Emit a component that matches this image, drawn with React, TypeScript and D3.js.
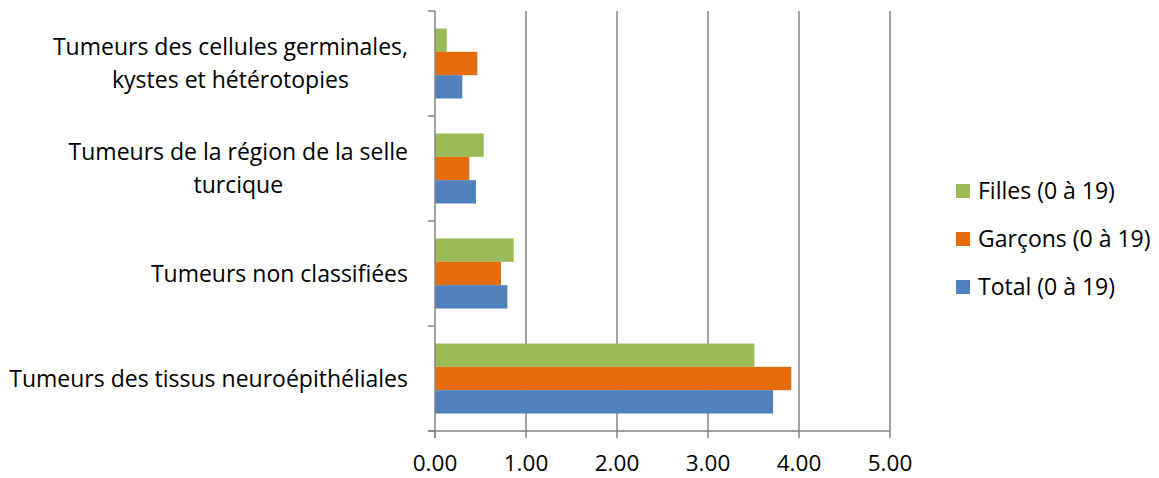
import React, { useEffect, useRef } from "react";
import * as d3 from "d3";

const categories: string[][] = [
  ["Tumeurs des cellules germinales,", "kystes et hétérotopies"],
  ["Tumeurs de la région de la selle", "turcique"],
  ["Tumeurs non classifiées"],
  ["Tumeurs des tissus neuroépithéliales"],
];
const seriesNames = ["Filles (0 à 19)", "Garçons (0 à 19)", "Total (0 à 19)"];
const seriesColors = ["#9BBB59", "#E46C0A", "#4F81BD"];
const filles = [0.13, 0.535, 0.865, 3.51];
const garcons = [0.465, 0.377, 0.725, 3.915];
const total = [0.3, 0.45, 0.795, 3.715];
const xTicks = [0, 1, 2, 3, 4, 5];

const W = 1159;
const H = 478;
const FONT = "'Open Sans', sans-serif";
const FS = 23;

export default function App() {
  const ref = useRef<SVGSVGElement>(null);
  useEffect(() => {
    const svg = d3.select(ref.current);
    svg.selectAll("*").remove();
    const series = [filles, garcons, total];
    const x = d3.scaleLinear().domain([0, 5]).range([435, 890]);
    const y = d3
      .scaleBand<number>()
      .domain(categories.map((_, i) => i))
      .range([11, 431])
      .paddingInner(0)
      .paddingOuter(0);
    const ys = d3
      .scaleBand<number>()
      .domain([0, 1, 2])
      .range([0, y.bandwidth()])
      .paddingInner(0)
      .paddingOuter(0.75);
    const grid = "#868686";

    // gridlines
    svg
      .append("g")
      .selectAll("line")
      .data(xTicks.slice(1))
      .join("line")
      .attr("x1", (d) => x(d))
      .attr("x2", (d) => x(d))
      .attr("y1", y.range()[0])
      .attr("y2", y.range()[1])
      .attr("stroke", grid)
      .attr("stroke-width", 1.5);

    // bars
    const g = svg.append("g");
    series.forEach((vals, si) => {
      g.append("g")
        .selectAll("rect")
        .data(vals)
        .join("rect")
        .attr("x", x(0))
        .attr("y", (_, i) => (y(i) as number) + (ys(si) as number))
        .attr("width", (d) => x(d) - x(0))
        .attr("height", ys.bandwidth())
        .attr("fill", seriesColors[si]);
    });

    // axes lines
    const yEdges = [...categories.map((_, i) => y(i) as number), y.range()[1]];
    svg
      .append("line")
      .attr("x1", x(0))
      .attr("x2", x(0))
      .attr("y1", y.range()[0])
      .attr("y2", y.range()[1] + 7)
      .attr("stroke", grid)
      .attr("stroke-width", 1.5);
    svg
      .append("g")
      .selectAll("line")
      .data(yEdges)
      .join("line")
      .attr("x1", x(0) - 7)
      .attr("x2", x(0))
      .attr("y1", (d) => d)
      .attr("y2", (d) => d)
      .attr("stroke", grid)
      .attr("stroke-width", 1.5);
    svg
      .append("line")
      .attr("x1", x(0) - 7)
      .attr("x2", x(5))
      .attr("y1", y.range()[1])
      .attr("y2", y.range()[1])
      .attr("stroke", grid)
      .attr("stroke-width", 1.5);
    svg
      .append("g")
      .selectAll("line")
      .data(xTicks)
      .join("line")
      .attr("x1", (d) => x(d))
      .attr("x2", (d) => x(d))
      .attr("y1", y.range()[1])
      .attr("y2", y.range()[1] + 7)
      .attr("stroke", grid)
      .attr("stroke-width", 1.5);

    // tick labels
    svg
      .append("g")
      .selectAll("text")
      .data(xTicks)
      .join("text")
      .attr("x", (d) => x(d))
      .attr("y", 471)
      .attr("text-anchor", "middle")
      .attr("font-family", FONT)
      .attr("font-size", 22.5)
      .attr("fill", "#000")
      .text((d) => d3.format(".2f")(d));

    // category labels
    const lineH = 33;
    categories.forEach((lines, i) => {
      const cy = (y(i) as number) + y.bandwidth() / 2;
      const tg = svg.append("g");
      const texts = tg
        .selectAll("text")
        .data(lines)
        .join("text")
        .attr("y", (_, li) => cy + 8 + (li - (lines.length - 1) / 2) * lineH)
        .attr("text-anchor", "middle")
        .attr("font-family", FONT)
        .attr("font-size", FS)
        .attr("fill", "#000")
        .text((d) => d);
      let maxW = 0;
      texts.each(function () {
        maxW = Math.max(maxW, (this as SVGTextElement).getComputedTextLength());
      });
      texts.attr("x", 408 - maxW / 2);
    });

    // legend
    const lg = svg.append("g");
    seriesNames.forEach((name, i) => {
      const cy = 191 + i * 48;
      lg.append("rect")
        .attr("x", 956)
        .attr("y", cy - 7)
        .attr("width", 14)
        .attr("height", 14)
        .attr("fill", seriesColors[i]);
      lg.append("text")
        .attr("x", 978)
        .attr("y", cy + 8)
        .attr("font-family", FONT)
        .attr("font-size", FS)
        .attr("fill", "#000")
        .text(name);
    });
  }, []);
  return (
    <svg
      ref={ref}
      width={W}
      height={H}
      style={{ position: "absolute", left: 0, top: 0, background: "#fff" }}
    />
  );
}
